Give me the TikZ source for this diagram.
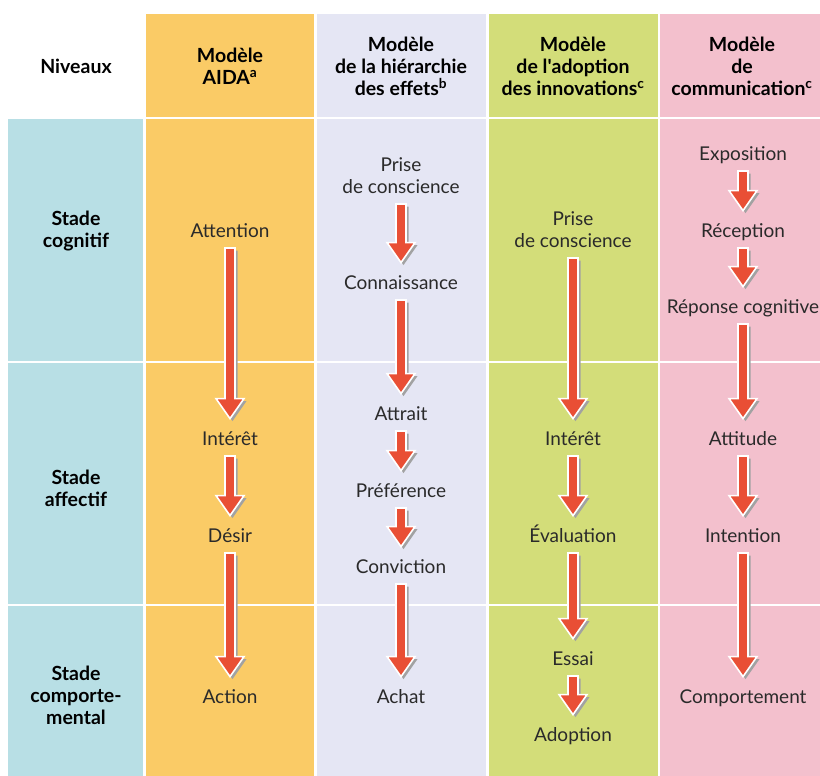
\documentclass[tikz,border=0pt]{standalone}
\usepackage{fontspec}
\setmainfont{Lato}
\usetikzlibrary{calc}

\definecolor{levelblue}{HTML}{B8DFE5}
\definecolor{aidaorange}{HTML}{FACB66}
\definecolor{hierlav}{HTML}{E5E6F4}
\definecolor{adoptgreen}{HTML}{D3DD79}
\definecolor{commpink}{HTML}{F3C0CD}
\definecolor{arrowred}{HTML}{E94F35}
\definecolor{shadowgray}{HTML}{A2A2A2}
\definecolor{bodytext}{HTML}{2A2A2A}

\tikzset{
  stagetxt/.style={font=\fontsize{19}{22}\selectfont, text=bodytext,
    inner sep=0pt, text height=14pt, text depth=5pt, anchor=south},
  multitxt/.style={font=\fontsize{19}{22}\selectfont, text=bodytext,
    inner sep=0pt, text depth=5pt, align=center, anchor=south},
  headtxt/.style={font=\bfseries\fontsize{19.5}{22}\selectfont, text=black,
    inner sep=0pt, text depth=5pt, align=center, anchor=south},
  arrowshade/.style={fill=shadowgray},
  arrowbody/.style={fill=arrowred, draw=white, line width=1.6pt, line join=miter},
}

% block arrow from the bottom of one stage to the top of the next
\newcommand{\flow}[2]{%
  \path[arrowshade] let \p1=(#1.south), \p2=(#2.north) in
    (\x1-2.5pt,\y1-7.5pt) -- (\x1+7.5pt,\y1-7.5pt) -- (\x1+7.5pt,\y2+30.5pt)
    -- (\x1+16.5pt,\y2+30.5pt) -- (\x1+2.5pt,\y2+10.5pt) -- (\x1-11.5pt,\y2+30.5pt)
    -- (\x1-2.5pt,\y2+30.5pt) -- cycle;
  \path[arrowbody] let \p1=(#1.south), \p2=(#2.north) in
    (\x1-5pt,\y1-5pt) -- (\x1+5pt,\y1-5pt) -- (\x1+5pt,\y2+33pt)
    -- (\x1+14pt,\y2+33pt) -- (\x1,\y2+13pt) -- (\x1-14pt,\y2+33pt)
    -- (\x1-5pt,\y2+33pt) -- cycle;
}

\begin{document}
\begin{tikzpicture}[x=1pt,y=-1pt]
\useasboundingbox (0,0) rectangle (820,776);

% column backgrounds: header row and three body rows
\fill[aidaorange] (146,14) rectangle (314,117);
\fill[hierlav]    (317,14) rectangle (486,117);
\fill[adoptgreen] (489,14) rectangle (658,117);
\fill[commpink]   (660,14) rectangle (820,117);
\foreach \ya/\yb in {119/361, 363/604, 606/776}{
  \fill[levelblue]  (8,\ya)   rectangle (143,\yb);
  \fill[aidaorange] (146,\ya) rectangle (314,\yb);
  \fill[hierlav]    (317,\ya) rectangle (486,\yb);
  \fill[adoptgreen] (489,\ya) rectangle (658,\yb);
  \fill[commpink]   (660,\ya) rectangle (820,\yb);
}

% headers
\node[headtxt] (hniv)  at (76,79)   {Niveaux};
\node[headtxt] (haida) at (230,90)  {Modèle\\AIDA\textsuperscript{a}};
\node[headtxt] (hhier) at (401,101) {Modèle\\de la hiérarchie\\des effets\textsuperscript{b}};
\node[headtxt] (hadop) at (573,101) {Modèle\\de l\textquotesingle adoption\\des innovations\textsuperscript{c}};
\node[headtxt] (hcomm) at (742,101) {Modèle\\de\\communication\textsuperscript{c}};

% levels
\node[headtxt] (lcog)  at (76,253) {Stade\\cognitif};
\node[headtxt] (laff)  at (76,512) {Stade\\affectif};
\node[headtxt] (lcomp) at (76,730) {Stade\\comporte-\\mental};

% AIDA
\node[stagetxt] (att) at (230,243) {Attention};
\node[stagetxt] (int) at (230,451) {Intérêt};
\node[stagetxt] (des) at (230,548) {Désir};
\node[stagetxt] (act) at (230,709) {Action};

% hierarchy of effects
\node[multitxt] (pc)   at (401,199) {Prise\\de conscience};
\node[stagetxt] (conn) at (401,295) {Connaissance};
\node[stagetxt] (attr) at (401,426) {Attrait};
\node[stagetxt] (pref) at (401,503) {Préférence};
\node[stagetxt] (conv) at (401,579) {Conviction};
\node[stagetxt] (ach)  at (401,709) {Achat};

% adoption of innovations
\node[multitxt] (pcb)  at (573,253) {Prise\\de conscience};
\node[stagetxt] (intb) at (573,451) {Intérêt};
\node[stagetxt] (eval) at (573,548) {Évaluation};
\node[stagetxt] (ess)  at (573,671) {Essai};
\node[stagetxt] (adop) at (573,747) {Adoption};

% communication
\node[stagetxt] (expo) at (743,166) {Exposition};
\node[stagetxt] (rec)  at (743,243) {Réception};
\node[stagetxt] (rep)  at (743,319) {Réponse cognitive};
\node[stagetxt] (atti) at (743,451) {Attitude};
\node[stagetxt] (inte) at (743,548) {Intention};
\node[stagetxt] (comp) at (743,709) {Comportement};

% arrows
\flow{att}{int}\flow{int}{des}\flow{des}{act}
\flow{pc}{conn}\flow{conn}{attr}\flow{attr}{pref}\flow{pref}{conv}\flow{conv}{ach}
\flow{pcb}{intb}\flow{intb}{eval}\flow{eval}{ess}\flow{ess}{adop}
\flow{expo}{rec}\flow{rec}{rep}\flow{rep}{atti}\flow{atti}{inte}\flow{inte}{comp}
\end{tikzpicture}
\end{document}
